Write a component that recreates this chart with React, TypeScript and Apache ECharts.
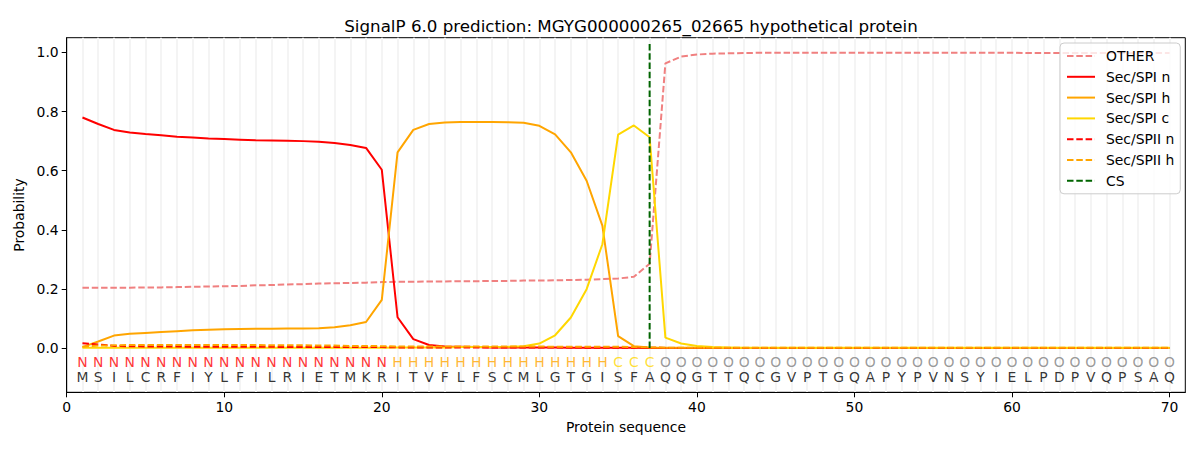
import React, { useEffect, useRef } from "react";
import * as echarts from "echarts";

const TITLE = "SignalP 6.0 prediction: MGYG000000265_02665 hypothetical protein";
const residues = "MSILCRFIYLFILRIETMKRITVFLFSCMLGTGISFAQQGTTQCGVPTGQAPYPVNSYIELPDPVQPSAQ".split("");
const regionLabels = "NNNNNNNNNNNNNNNNNNNNHHHHHHHHHHHHHHCCCOOOOOOOOOOOOOOOOOOOOOOOOOOOOOOOOO".split("");
const labelColors: Record<string, string> = { N: "#ff0000", H: "#ffa500", C: "#ffd700", O: "#808080" };

const other = [
  0.204, 0.204, 0.204, 0.204, 0.205, 0.205, 0.206, 0.207, 0.208, 0.209,
  0.210, 0.212, 0.213, 0.215, 0.216, 0.218, 0.219, 0.220, 0.221, 0.223,
  0.224, 0.224, 0.225, 0.225, 0.226, 0.226, 0.227, 0.227, 0.228, 0.228,
  0.229, 0.230, 0.231, 0.233, 0.235, 0.241, 0.285, 0.963, 0.986, 0.993,
  0.996, 0.997, 0.998, 0.999, 0.999, 0.999, 0.999, 0.999, 0.999, 0.999,
  0.999, 0.999, 0.999, 0.999, 0.999, 0.999, 0.999, 0.999, 0.999, 0.999,
  0.998, 0.998, 0.998, 0.998, 0.998, 0.998, 0.998, 0.998, 0.998, 0.998,
];
const spiN = [
  0.780, 0.758, 0.738, 0.729, 0.724, 0.720, 0.715, 0.712, 0.709, 0.707,
  0.705, 0.703, 0.702, 0.701, 0.700, 0.698, 0.694, 0.687, 0.677, 0.603,
  0.104, 0.030, 0.010, 0.005, 0.004, 0.003, 0.002, 0.002, 0.002, 0.002,
  0.002, 0.001, 0.001, 0.001, 0.001, 0.001, 0.000, 0.000, 0.000, 0.000,
  0, 0, 0, 0, 0, 0, 0, 0, 0, 0,
  0, 0, 0, 0, 0, 0, 0, 0, 0, 0,
  0, 0, 0, 0, 0, 0, 0, 0, 0, 0,
];
const spiH = [
  0.003, 0.022, 0.042, 0.048, 0.051, 0.054, 0.057, 0.060, 0.062, 0.063,
  0.064, 0.065, 0.065, 0.066, 0.066, 0.067, 0.070, 0.077, 0.088, 0.163,
  0.662, 0.738, 0.758, 0.763, 0.765, 0.765, 0.765, 0.764, 0.762, 0.752,
  0.723, 0.662, 0.566, 0.414, 0.040, 0.006, 0.002, 0.001, 0.001, 0.001,
  0, 0, 0, 0, 0, 0, 0, 0, 0, 0,
  0, 0, 0, 0, 0, 0, 0, 0, 0, 0,
  0, 0, 0, 0, 0, 0, 0, 0, 0, 0,
];
const spiC = [
  0.001, 0.001, 0.001, 0.001, 0.001, 0.001, 0.001, 0.001, 0.001, 0.001,
  0.001, 0.001, 0.001, 0.001, 0.001, 0.001, 0.001, 0.001, 0.001, 0.001,
  0.002, 0.002, 0.002, 0.002, 0.003, 0.003, 0.003, 0.004, 0.006, 0.015,
  0.043, 0.103, 0.199, 0.351, 0.722, 0.753, 0.713, 0.035, 0.015, 0.007,
  0.003, 0.002, 0.001, 0.001, 0.001, 0.001, 0.001, 0.001, 0.001, 0.001,
  0.001, 0.001, 0.001, 0.001, 0.001, 0.001, 0.001, 0.001, 0.001, 0.001,
  0.001, 0.001, 0.001, 0.001, 0.001, 0.001, 0.001, 0.001, 0.001, 0.001,
];
const spiiN = [
  0.016, 0.012, 0.007, 0.006, 0.005, 0.005, 0.005, 0.004, 0.004, 0.004,
  0.004, 0.004, 0.004, 0.003, 0.003, 0.003, 0.003, 0.003, 0.003, 0.003,
  0.002, 0.002, 0.002, 0.002, 0.002, 0.002, 0.002, 0.002, 0.002, 0.002,
  0.002, 0.002, 0.001, 0.001, 0.001, 0.001, 0.001, 0.000, 0.000, 0.000,
  0, 0, 0, 0, 0, 0, 0, 0, 0, 0,
  0, 0, 0, 0, 0, 0, 0, 0, 0, 0,
  0, 0, 0, 0, 0, 0, 0, 0, 0, 0,
];
const spiiH = [
  0.004, 0.008, 0.009, 0.010, 0.010, 0.010, 0.010, 0.010, 0.010, 0.010,
  0.010, 0.010, 0.009, 0.009, 0.009, 0.008, 0.008, 0.007, 0.007, 0.006,
  0.005, 0.005, 0.005, 0.005, 0.005, 0.005, 0.005, 0.005, 0.005, 0.005,
  0.004, 0.004, 0.004, 0.004, 0.004, 0.003, 0.002, 0.001, 0.001, 0.001,
  0.001, 0.001, 0.001, 0.001, 0.001, 0.001, 0.001, 0.001, 0.001, 0.001,
  0.001, 0.001, 0.001, 0.001, 0.001, 0.001, 0.001, 0.001, 0.001, 0.001,
  0.001, 0.001, 0.001, 0.001, 0.001, 0.001, 0.001, 0.001, 0.001, 0.001,
];
const csPosition = 37;
const csSpan = [0, 1.035];
const xTicks = [0, 10, 20, 30, 40, 50, 60, 70];
const yTicks = [0, 0.2, 0.4, 0.6, 0.8, 1.0];
const labelRowY = -0.046;
const residueRowY = -0.098;

const FONT = "DejaVu Sans";

export default function App() {
  const ref = useRef<HTMLDivElement>(null);
  useEffect(() => {
    if (!ref.current) return;
    const chart = echarts.init(ref.current, null, { renderer: "svg" });
    const positions = residues.map((_, i) => i + 1);
    const pts = (arr: number[]) => arr.map((v, i) => [positions[i], v]);
    const lineSeries = (name: string, data: number[], color: string, dashed: boolean) => ({
      name,
      type: "line",
      data: pts(data),
      symbol: "none",
      silent: true,
      z: 3,
      lineStyle: { color, width: 2, type: dashed ? [6.5, 2.8] : "solid" },
      itemStyle: { color },
    });
    const option: any = {
      animation: false,
      backgroundColor: "#ffffff",
      textStyle: { fontFamily: FONT },
      title: {
        text: TITLE,
        left: 626,
        top: 12,
        textAlign: "center",
        textStyle: { fontFamily: FONT, fontSize: 16.7, fontWeight: "normal", color: "#000" },
      },
      grid: {
        left: 66.7,
        right: 14.7,
        top: 37.7,
        bottom: 57.7,
        show: true,
        borderColor: "#000",
        borderWidth: 1,
        backgroundColor: "transparent",
      },
      legend: {
        orient: "vertical",
        left: 1060,
        top: 43,
        padding: [6, 6, 6, 6],
        itemWidth: 28,
        itemHeight: 14,
        itemGap: 6.8,
        backgroundColor: "rgba(255,255,255,0.8)",
        borderColor: "#cccccc",
        borderWidth: 1,
        borderRadius: 4,
        itemStyle: { opacity: 0 },
        textStyle: { fontFamily: FONT, fontSize: 13.9, color: "#000", padding: [0, 0, 0, 6] },
        data: ["OTHER", "Sec/SPI n", "Sec/SPI h", "Sec/SPI c", "Sec/SPII n", "Sec/SPII h", "CS"],
      },
      xAxis: {
        type: "value",
        min: 0,
        max: 71,
        name: "Protein sequence",
        nameLocation: "middle",
        nameGap: 28,
        nameTextStyle: { fontFamily: FONT, fontSize: 13.9, color: "#000" },
        axisLine: { show: true, onZero: false, lineStyle: { color: "#000", width: 1 } },
        axisTick: { show: true, length: 5, customValues: xTicks, lineStyle: { color: "#000" } },
        axisLabel: {
          customValues: xTicks,
          margin: 8,
          fontFamily: FONT,
          fontSize: 13.9,
          color: "#000",
          formatter: (v: number) => String(v),
        },
        splitLine: { show: false },
      },
      yAxis: {
        type: "value",
        min: -0.15,
        max: 1.05,
        name: "Probability",
        nameLocation: "middle",
        nameGap: 38,
        nameTextStyle: { fontFamily: FONT, fontSize: 13.9, color: "#000" },
        axisLine: { show: true, onZero: false, lineStyle: { color: "#000", width: 1 } },
        axisTick: { show: true, length: 5, customValues: yTicks, lineStyle: { color: "#000" } },
        axisLabel: {
          customValues: yTicks,
          margin: 8,
          fontFamily: FONT,
          fontSize: 13.9,
          color: "#000",
          formatter: (v: number) => v.toFixed(1),
        },
        splitLine: { show: false },
      },
      series: [
        {
          name: "_grid",
          type: "line",
          data: [],
          silent: true,
          z: 0,
          markLine: {
            silent: true,
            z: 0,
            symbol: "none",
            label: { show: false },
            lineStyle: { color: "#f4f4f4", width: 2, type: "solid", opacity: 1 },
            emphasis: { disabled: true },
            data: positions.map((p) => ({ xAxis: p })),
          },
        },
        lineSeries("OTHER", other, "#f08080", true),
        lineSeries("Sec/SPI n", spiN, "#ff0000", false),
        lineSeries("Sec/SPI h", spiH, "#ffa500", false),
        lineSeries("Sec/SPI c", spiC, "#ffd700", false),
        lineSeries("Sec/SPII n", spiiN, "#ff0000", true),
        lineSeries("Sec/SPII h", spiiH, "#ffa500", true),
        {
          name: "CS",
          type: "line",
          data: csSpan.map((v) => [csPosition, v]),
          symbol: "none",
          silent: true,
          z: 4,
          lineStyle: { color: "#006400", width: 2, type: [6.5, 2.8] },
          itemStyle: { color: "#006400" },
        },
        {
          name: "_labels",
          type: "scatter",
          symbolSize: 0,
          silent: true,
          z: 5,
          data: regionLabels.map((l, i) => ({
            value: [positions[i], labelRowY],
            label: { formatter: l, color: labelColors[l] },
          })),
          label: { show: true, position: "inside", fontFamily: FONT, fontSize: 13.9 },
        },
        {
          name: "_residues",
          type: "scatter",
          symbolSize: 0,
          silent: true,
          z: 5,
          data: residues.map((r, i) => ({
            value: [positions[i], residueRowY],
            label: { formatter: r },
          })),
          label: { show: true, position: "inside", fontFamily: FONT, fontSize: 13.9, color: "#000" },
        },
      ],
    };
    chart.setOption(option);
    return () => chart.dispose();
  }, []);
  return (
    <div
      ref={ref}
      style={{ position: "absolute", left: 0, top: 0, width: 1200, height: 450 }}
    />
  );
}
